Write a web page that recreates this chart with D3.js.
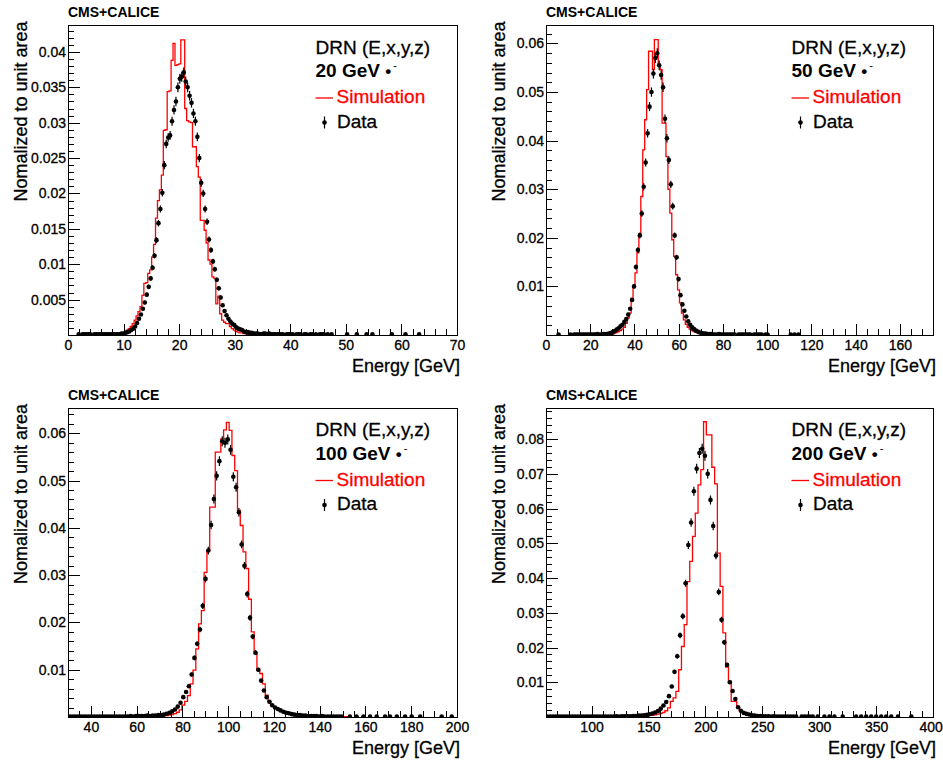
<!DOCTYPE html>
<html><head><meta charset="utf-8">
<script src="https://cdn.jsdelivr.net/npm/d3@7"></script>
<style>
body{margin:0;background:#fff}
svg{display:block}
text{font-family:"Liberation Sans",Arial,Helvetica,sans-serif}
</style>
</head><body>
<svg id="chart" width="943" height="763"></svg>
<script>
// ---------------- data ----------------
const beamEnergies = ["20", "50", "100", "200"];
const xDomains = [[0, 70], [0, 175], [30, 200], [60, 400]];
const yMaxima = [0.0438, 0.0638, 0.06545, 0.0891];
const xMajorTicks = [
  [0, 10, 20, 30, 40, 50, 60, 70],
  [0, 20, 40, 60, 80, 100, 120, 140, 160],
  [40, 60, 80, 100, 120, 140, 160, 180, 200],
  [100, 150, 200, 250, 300, 350, 400]
];
const xMinorStep = [2, 5, 5, 10];
const yTickValues = [
  [0.005, 0.01, 0.015, 0.02, 0.025, 0.03, 0.035, 0.04],
  [0.01, 0.02, 0.03, 0.04, 0.05, 0.06],
  [0.01, 0.02, 0.03, 0.04, 0.05, 0.06],
  [0.01, 0.02, 0.03, 0.04, 0.05, 0.06, 0.07, 0.08]
];
const yTickLabels = [
  ["0.005", "0.01", "0.015", "0.02", "0.025", "0.03", "0.035", "0.04"],
  ["0.01", "0.02", "0.03", "0.04", "0.05", "0.06"],
  ["0.01", "0.02", "0.03", "0.04", "0.05", "0.06"],
  ["0.01", "0.02", "0.03", "0.04", "0.05", "0.06", "0.07", "0.08"]
];
const yMinorStep = [0.001, 0.002, 0.002, 0.002];

// histogram binning: low edge, bin width
const binLow = [0, 0, 30, 60];
const binWidth = [0.35, 0.875, 170 / 140, 340 / 140];

// data (black points): index of first bin + values
const dataFirstBin = [5, 12, 0, 0];
const e20Data = [
  0.0001, 0, 0.0001, 0.0001, 0.0001, 0.0001, 0.0001, 0, 0.0001, 0.0001, 0.0001, 0.0001, 0.0001, 0.0001, 0.0001, 0.0001, 0.0001, 0.0001, 0.0001,
  0.0001, 0.0001, 0.0001, 0.0002, 0.0002, 0.0003, 0.0004, 0.0005, 0.0007, 0.0009, 0.0012, 0.0017, 0.0023, 0.0029, 0.0037, 0.0046,
  0.0057, 0.0068, 0.0080, 0.0095, 0.0112, 0.0134, 0.0158, 0.0178, 0.0201, 0.0240, 0.0270, 0.0279, 0.0282, 0.0302, 0.0318, 0.0330,
  0.0350, 0.0362, 0.0365, 0.0371, 0.0358, 0.0350, 0.0338, 0.0328, 0.0313, 0.0302, 0.0280, 0.0250, 0.0215, 0.0200, 0.0178, 0.0160,
  0.0135, 0.0120, 0.0104, 0.0093, 0.0078, 0.0066, 0.0053, 0.0042, 0.0034, 0.0028, 0.0023, 0.0019, 0.0016, 0.0014, 0.0011, 0.0009,
  0.0008, 0.0007, 0.0005, 0.0004, 0.0004, 0.0003, 0.0003, 0.0002, 0.0002, 0.0002, 0.0001, 0.0001,
  0.0002, 0.0002, 0.0001, 0.0002, 0.0001, 0.0001, 0.0001, 0.0001, 0.0001, 0.0001, 0.0001, 0, 0.0001, 0.0001, 0.0001, 0.0001,
  0, 0.0001, 0.0001, 0.0001, 0, 0.0001, 0.0001, 0, 0.0001, 0.0001, 0, 0.0001, 0, 0.0001, 0.0001
];
const e50Data = [
  0.0001, 0, 0.0001, 0.0001, 0.0001, 0.0001, 0.0001, 0.0001, 0.0001, 0.0001, 0.0001, 0.0001, 0.0001, 0.0001, 0.0002, 0.0001, 0.0001, 0.0002, 0.0002, 0.0002,
  0.0003, 0.0004, 0.0006, 0.0008, 0.0011, 0.0014, 0.0018, 0.0021, 0.0027, 0.0033, 0.0042, 0.0054, 0.0072, 0.0100, 0.0140, 0.0175,
  0.0205, 0.0250, 0.0305, 0.0355, 0.0415, 0.0470, 0.0500, 0.0538, 0.0570, 0.0580, 0.0555, 0.0535, 0.0510, 0.0445, 0.0405, 0.0360,
  0.0310, 0.0265, 0.0205, 0.0160, 0.0115, 0.0082, 0.0063, 0.0050, 0.0038, 0.0028, 0.0021, 0.0016, 0.0012, 0.0009, 0.0007, 0.0005,
  0.0004, 0.0003, 0.0003, 0.0002, 0.0002, 0.0002, 0.0001,
  0.0001, 0.0001, 0.0002, 0.0001, 0.0001, 0.0001, 0.0001, 0.0001, 0.0001, 0.0001, 0.0001, 0, 0.0001, 0.0001, 0.0001, 0.0001,
  0.0001, 0.0001, 0.0001, 0, 0.0001, 0.0001, 0.0001, 0.0001, 0.0001, 0, 0.0001, 0.0001
];
const e100Data = [
  0.0001, 0.0001, 0.0001, 0.0001, 0.0001, 0.0001, 0.0001, 0.0001, 0.0001, 0.0001, 0.0001, 0.0001, 0.0001, 0.0001, 0.0001, 0.0001, 0.0001,
  0.0001, 0.0001, 0.0001, 0.0001, 0.0001, 0.0002, 0.0001, 0.0002, 0.0002, 0.0002, 0.0002, 0.0003, 0.0002, 0.0003, 0.0003, 0.0004,
  0.0004, 0.0005, 0.0007, 0.0009, 0.0012, 0.0016, 0.0022, 0.0030, 0.0042, 0.0053, 0.0065, 0.0090, 0.0125, 0.0155, 0.0185, 0.0235,
  0.0292, 0.0352, 0.0406, 0.0461, 0.0510, 0.0541, 0.0583, 0.0580, 0.0587, 0.0565, 0.0508, 0.0486, 0.0433, 0.0365, 0.0320, 0.0260,
  0.0210, 0.0170, 0.0136, 0.0100, 0.0077, 0.0056, 0.0042, 0.0032, 0.0025, 0.0020, 0.0017, 0.0014, 0.0011, 0.0009, 0.0008, 0.0006,
  0.0005, 0.0004, 0.0004, 0.0003, 0.0003, 0.0002,
  0.0002, 0.0002, 0.0002, 0.0001, 0.0002, 0.0001, 0.0001, 0.0001, 0.0001, 0.0001, 0.0001, 0.0001
];
const e200Data = [
  0.0001, 0.0001, 0.0001, 0.0001, 0.0001, 0.0001, 0.0001, 0.0001, 0.0001, 0.0001, 0.0001, 0.0001, 0.0001, 0.0001, 0.0001, 0.0001,
  0.0001, 0.0001, 0.0001, 0.0001, 0.0001, 0.0001, 0.0001, 0.0001, 0.0001, 0.0002, 0.0001, 0.0002, 0.0002, 0.0002, 0.0002, 0.0003,
  0.0003, 0.0004, 0.0004, 0.0005, 0.0006, 0.0008, 0.0010, 0.0013, 0.0017, 0.0024, 0.0033, 0.0043, 0.0060, 0.0088, 0.0130, 0.0175,
  0.0235, 0.0290, 0.0385, 0.0495, 0.0560, 0.0650, 0.0715, 0.0760, 0.0772, 0.0752, 0.0700, 0.0625, 0.0550, 0.0465, 0.0360, 0.0280,
  0.0215, 0.0150, 0.0100, 0.0075, 0.0052, 0.0028, 0.0018, 0.0012, 0.0009, 0.0007, 0.0005, 0.0004, 0.0003, 0.0003, 0.0002,
  0.0002, 0.0002, 0.0001, 0.0002, 0.0001, 0.0001, 0.0001, 0.0001, 0.0001, 0.0001, 0.0001, 0.0001, 0, 0.0001, 0.0001, 0.0001, 0.0001, 0.0001
];

// isolated data points far in the tails: energy and value
const e20IsoE = [46.03, 46.73, 47.43, 50.23, 51.98, 53.73, 54.78, 58.28, 60.73, 63.18];
const e20IsoV = [0.0001, 0.0001, 0.0001, 0.0001, 0.0001, 0.0001, 0.0001, 0.0001, 0.0001, 0.0001];
const e50IsoE = [5.69, 110.69, 112.44, 114.19];
const e50IsoV = [0.0001, 0.0001, 0.0001, 0.0001];
const e100IsoE = [153.2, 156.1, 159.1, 162.0, 164.9, 168.6, 170.7, 173.7, 177.3, 180.2, 183.9, 193.3, 197.7];
const e100IsoV = [0.0001, 0.0001, 0.0001, 0.0001, 0.0001, 0.0001, 0.0001, 0.0001, 0.0001, 0.0001, 0.0001, 0.0001, 0.0001];
const e200IsoE = [298.7, 304.6, 309.0, 313.4, 320.7, 332.5, 336.9, 341.3, 345.7, 350.1, 354.5, 358.9, 363.3, 369.2, 381.0];
const e200IsoV = [0.0001, 0.0001, 0.0001, 0.0001, 0.0001, 0.0001, 0.0001, 0.0001, 0.0001, 0.0001, 0.0001, 0.0001, 0.0001, 0.0001, 0.0001];

// simulation (red histogram): index of first bin + values
const simFirstBin = [27, 35, 28, 28];
const e20Sim = [
  0.0001, 0.0002, 0.0004, 0.0007, 0.0009, 0.0012, 0.0016, 0.0021, 0.0027, 0.0033, 0.0040, 0.0056, 0.0073, 0.0074, 0.0087, 0.0092,
  0.0110, 0.0128, 0.0165, 0.0190, 0.0205, 0.0226, 0.0289, 0.0290, 0.0344, 0.0345, 0.0388, 0.0412, 0.0381, 0.0382, 0.0383, 0.0417,
  0.0417, 0.0320, 0.0303, 0.0301, 0.0300, 0.0266, 0.0266, 0.0238, 0.0223, 0.0162, 0.0162, 0.0148, 0.0130, 0.0106, 0.0100, 0.0082,
  0.0080, 0.0044, 0.0055, 0.0030, 0.0021, 0.0018, 0.0016, 0.0016, 0.0012, 0.0009, 0.0007, 0.0005, 0.0004, 0.0003, 0.0003, 0.0002,
  0.0002, 0.0001, 0.0001, 0.0001, 0.0001
];
const e50Sim = [
  0.0004, 0.0005, 0.0007, 0.0009, 0.0012, 0.0016, 0.0024, 0.0035, 0.0045, 0.0076, 0.0100, 0.0128, 0.0169, 0.0208, 0.0285, 0.0381,
  0.0443, 0.0505, 0.0584, 0.0584, 0.0546, 0.0608, 0.0608, 0.0556, 0.0546, 0.0436, 0.0436, 0.0367, 0.0300, 0.0251, 0.0196, 0.0162,
  0.0124, 0.0093, 0.0066, 0.0045, 0.0031, 0.0022, 0.0016, 0.0012, 0.0009, 0.0007, 0.0006, 0.0005, 0.0004, 0.0003, 0.0003, 0.0003,
  0.0003, 0.0004, 0.0003, 0.0002, 0.0003, 0.0002, 0.0002, 0.0002, 0.0001, 0.0001
];
const e100Sim = [
  0.0001, 0.0001, 0.0002, 0.0001, 0.0002,
  0.0002, 0.0003, 0.0003, 0.0004, 0.0005, 0.0007, 0.0010, 0.0015, 0.0025, 0.0033, 0.0045, 0.0070, 0.0099, 0.0144, 0.0197, 0.0225,
  0.0306, 0.0352, 0.0444, 0.0444, 0.0560, 0.0560, 0.0588, 0.0607, 0.0623, 0.0606, 0.0553, 0.0521, 0.0437, 0.0405, 0.0349, 0.0314,
  0.0249, 0.0180, 0.0134, 0.0099, 0.0092, 0.0070, 0.0046, 0.0032, 0.0024, 0.0019, 0.0016, 0.0013, 0.0013, 0.0011, 0.0009, 0.0008,
  0.0006, 0.0005, 0.0005, 0.0004, 0.0004, 0.0003,
  0.0003, 0.0003, 0.0002, 0.0002, 0.0002, 0.0002, 0.0001, 0.0001, 0.0001, 0.0001, 0.0001, 0.0001, 0.0001, 0.0001
];
const e200Sim = [
  0.0001, 0.0001, 0.0002, 0.0002,
  0.0002, 0.0002, 0.0003, 0.0003, 0.0004, 0.0005, 0.0005, 0.0006, 0.0008, 0.0010, 0.0013, 0.0018, 0.0026, 0.0045, 0.0055, 0.0074,
  0.0136, 0.0203, 0.0266, 0.0390, 0.0448, 0.0520, 0.0587, 0.0668, 0.0712, 0.0850, 0.0812, 0.0812, 0.0719, 0.0671, 0.0472, 0.0376,
  0.0242, 0.0144, 0.0103, 0.0045, 0.0045, 0.0026, 0.0016, 0.0012, 0.0010, 0.0008, 0.0007, 0.0005, 0.0005, 0.0004, 0.0003,
  0.0002, 0.0001
];

const dataSeries = [e20Data, e50Data, e100Data, e200Data];
const simSeries = [e20Sim, e50Sim, e100Sim, e200Sim];
const isoE = [e20IsoE, e50IsoE, e100IsoE, e200IsoE];
const isoV = [e20IsoV, e50IsoV, e100IsoV, e200IsoV];

// ---------------- layout ----------------
const W = 943;
const frames = [
  {x0: 68, x1: 457, y0: 25, y1: 335},
  {x0: 546, x1: 933, y0: 25, y1: 335},
  {x0: 68, x1: 457, y0: 407.5, y1: 717},
  {x0: 546, x1: 933, y0: 407.5, y1: 717}
];
const RED = "#ff0000";
const svg = d3.select("#chart");
const defs = svg.append("defs");
const TXT_STROKE = 0.3;

frames.forEach((f, i) => {
  const g = svg.append("g");
  const x = d3.scaleLinear().domain(xDomains[i]).range([f.x0, f.x1]);
  const y = d3.scaleLinear().domain([0, yMaxima[i]]).range([f.y1, f.y0]);
  const w = binWidth[i], lo = binLow[i];

  defs.append("clipPath").attr("id", "clip" + i)
    .append("rect").attr("x", f.x0).attr("y", f.y0 - 1)
    .attr("width", f.x1 - f.x0).attr("height", f.y1 - f.y0 + 1);

  const plot = g.append("g").attr("clip-path", `url(#clip${i})`);

  // simulation step histogram
  const sv = simSeries[i], sf = simFirstBin[i];
  const pts = [[lo + sf * w, 0]];
  sv.forEach((v, j) => {
    const a = lo + (sf + j) * w;
    pts.push([a, v], [a + w, v]);
  });
  pts.push([lo + (sf + sv.length) * w, 0]);
  plot.append("path")
    .attr("d", d3.line().x(d => x(d[0])).y(d => y(d[1]))(pts))
    .attr("fill", "none").attr("stroke", RED).attr("stroke-width", 1.3)
    .attr("stroke-linejoin", "miter");

  // data points
  const dv = dataSeries[i], df = dataFirstBin[i];
  const pnts = [];
  dv.forEach((v, j) => { if (v > 0) pnts.push([lo + (df + j + 0.5) * w, v]); });
  isoE[i].forEach((e, j) => pnts.push([e, isoV[i][j]]));
  const vmax = d3.max(pnts, d => d[1]);
  plot.append("g").selectAll("line").data(pnts).join("line")
    .attr("x1", d => x(d[0])).attr("x2", d => x(d[0]))
    .attr("y1", d => y(d[1]) - 5 * Math.sqrt(d[1] / vmax))
    .attr("y2", d => y(d[1]) + 5 * Math.sqrt(d[1] / vmax))
    .attr("stroke", "#000").attr("stroke-width", 1.2);
  plot.append("g").selectAll("circle").data(pnts).join("circle")
    .attr("cx", d => x(d[0])).attr("cy", d => y(d[1])).attr("r", 2.3)
    .attr("fill", "#000");

  // axes
  const styleAxis = sel => {
    sel.select(".domain").remove();
    sel.selectAll(".tick line").attr("stroke", "#000").attr("stroke-width", 1)
      .attr("shape-rendering", "crispEdges");
    sel.selectAll("text").attr("font-family", '"Liberation Sans",Arial,sans-serif')
      .attr("font-size", 14).attr("fill", "#000")
      .attr("stroke", "#000").attr("stroke-width", TXT_STROKE);
  };
  const [dx0, dx1] = xDomains[i];
  const minorX = d3.range(dx0, dx1 + 1e-9, xMinorStep[i]).filter(v => !xMajorTicks[i].includes(v));
  g.append("g").attr("transform", `translate(0,${f.y1})`)
    .call(d3.axisBottom(x).tickValues(minorX).tickSizeInner(-6).tickSizeOuter(0).tickFormat(""))
    .call(styleAxis);
  const xa = g.append("g").attr("transform", `translate(0,${f.y1})`)
    .call(d3.axisBottom(x).tickValues(xMajorTicks[i]).tickSizeInner(-11.5).tickSizeOuter(0)
      .tickPadding(5.5).tickFormat(d3.format("d")))
    .call(styleAxis);
  // keep the last label inside the picture
  xa.selectAll(".tick text").each(function(d) {
    const b = this.getBBox();
    const right = x(d) + b.x + b.width;
    if (right > W - 0.5) d3.select(this).attr("dx", (W - 0.5 - right) + "px");
  });

  const yTop = yMaxima[i];
  const minorY = d3.range(1, Math.floor(yTop / yMinorStep[i] + 1e-6) + 1)
    .map(k => +(k * yMinorStep[i]).toFixed(5))
    .filter(v => !yTickValues[i].some(t => Math.abs(t - v) < 1e-7));
  g.append("g").attr("transform", `translate(${f.x0},0)`)
    .call(d3.axisLeft(y).tickValues(minorY).tickSizeInner(-6).tickSizeOuter(0).tickFormat(""))
    .call(styleAxis);
  g.append("g").attr("transform", `translate(${f.x0},0)`)
    .call(d3.axisLeft(y).tickValues(yTickValues[i]).tickSizeInner(-11.5).tickSizeOuter(0)
      .tickPadding(2).tickFormat((d, k) => yTickLabels[i][k]))
    .call(styleAxis);

  // frame
  g.append("rect").attr("x", f.x0 + 0.5).attr("y", f.y0 + 0.5)
    .attr("width", f.x1 - f.x0).attr("height", f.y1 - f.y0)
    .attr("fill", "none").attr("stroke", "#000").attr("stroke-width", 1)
    .attr("shape-rendering", "crispEdges");

  // titles
  g.append("text").attr("x", f.x0).attr("y", f.y0 - 8)
    .attr("font-size", 14).attr("font-weight", "bold").text("CMS+CALICE");
  g.append("text").attr("x", f.x1 + 3).attr("y", f.y1 + 37)
    .attr("text-anchor", "end").attr("font-size", 18)
    .attr("stroke", "#000").attr("stroke-width", TXT_STROKE).text("Energy [GeV]");
  g.append("text")
    .attr("transform", `translate(${f.x0 - 41.5},${f.y0 - 3.5}) rotate(-90)`)
    .attr("text-anchor", "end").attr("font-size", 18)
    .attr("stroke", "#000").attr("stroke-width", TXT_STROKE).text("Nomalized to unit area");

  // legend
  const lx = f.x1 - 141.5;
  g.append("text").attr("x", lx).attr("y", f.y0 + 28.5).attr("font-size", 19)
    .attr("stroke", "#000").attr("stroke-width", TXT_STROKE).text("DRN (E,x,y,z)");
  const et = g.append("text").attr("x", lx).attr("y", f.y0 + 52).attr("font-size", 19).attr("font-weight", "bold");
  et.append("tspan").text(beamEnergies[i] + " GeV ");
  et.append("tspan").attr("font-size", 17).text("\u2022");
  et.append("tspan").attr("font-size", 11).attr("dx", 2).attr("dy", -8).attr("font-weight", "normal").text("-");
  g.append("line").attr("x1", lx).attr("x2", lx + 17.5).attr("y1", f.y0 + 73).attr("y2", f.y0 + 73)
    .attr("stroke", RED).attr("stroke-width", 1.3);
  g.append("text").attr("x", lx + 21).attr("y", f.y0 + 78).attr("font-size", 19).attr("fill", RED)
    .attr("stroke", RED).attr("stroke-width", TXT_STROKE).text("Simulation");
  g.append("line").attr("x1", lx + 9).attr("x2", lx + 9).attr("y1", f.y0 + 91.5).attr("y2", f.y0 + 103.5)
    .attr("stroke", "#000").attr("stroke-width", 1.2);
  g.append("circle").attr("cx", lx + 9).attr("cy", f.y0 + 97.5).attr("r", 2.3).attr("fill", "#000");
  g.append("text").attr("x", lx + 21.5).attr("y", f.y0 + 102.5).attr("font-size", 19)
    .attr("stroke", "#000").attr("stroke-width", TXT_STROKE).text("Data");
});
</script>
</body></html>
